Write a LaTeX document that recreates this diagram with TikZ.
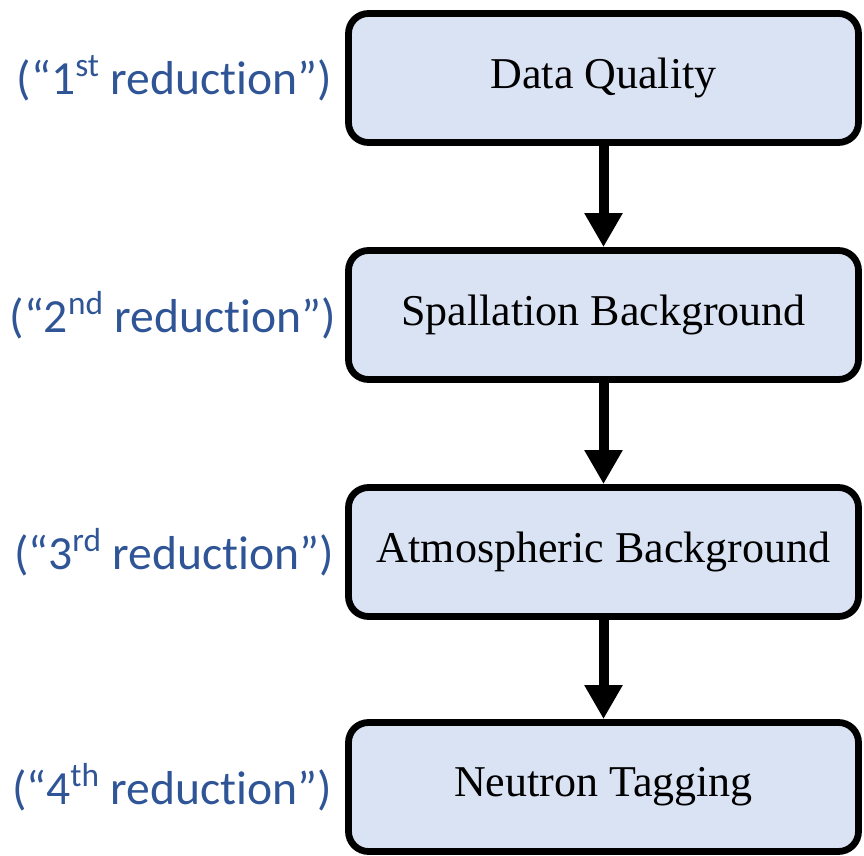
\documentclass[tikz,border=0pt]{standalone}
\usepackage{fontspec}
\setmainfont{Liberation Serif}
\newfontfamily\lblfont[Ligatures=NoCommon]{Carlito}
\usepackage{xcolor}
\usepackage{tikz}
\usetikzlibrary{arrows.meta,positioning}

\definecolor{boxfill}{HTML}{DAE3F3}
\definecolor{lblblue}{HTML}{2F5597}

\begin{document}
\begin{tikzpicture}[x=0.5pt, y=-0.5pt,
    stage/.style={draw, line width=3.4pt, rounded corners=10pt, fill=boxfill,
      minimum width=255pt, minimum height=64.5pt, align=center,
      font=\fontsize{22}{26}\selectfont},
    lbl/.style={font=\lblfont\fontsize{23.8}{28}\selectfont, text=lblblue},
    arr/.style={-{Triangle[length=17pt, width=18pt]}, line width=5pt},
  ]
    \useasboundingbox (0,0) rectangle (864,856);

    % Stages
    \node[stage] (dq) at (603.5, 78) {\raisebox{-2pt}{Data Quality}};
    \node[stage] (spall) at (603.5, 315) {\raisebox{-2pt}{Spallation Background}};
    \node[stage] (atm) at (603.5, 552) {\raisebox{-2pt}{Atmospheric Background}};
    \node[stage] (ntag) at (603.5, 787) {\raisebox{-2pt}{Neutron Tagging}};

    % Arrows
    \draw[arr] (dq) -- (spall);
    \draw[arr] (spall) -- (atm);
    \draw[arr] (atm) -- (ntag);

    % Labels
    \node[lbl, left=3pt of dq] (red1) {(“1\textsuperscript{st} reduction”)};
    \node[lbl, left=1pt of spall] (red2) {(“2\textsuperscript{nd} reduction”)};
    \node[lbl, left=2pt of atm] (red3) {(“3\textsuperscript{rd} reduction”)};
    \node[lbl, left=3pt of ntag] (red4) {(“4\textsuperscript{th} reduction”)};
  \end{tikzpicture}
\end{document}
